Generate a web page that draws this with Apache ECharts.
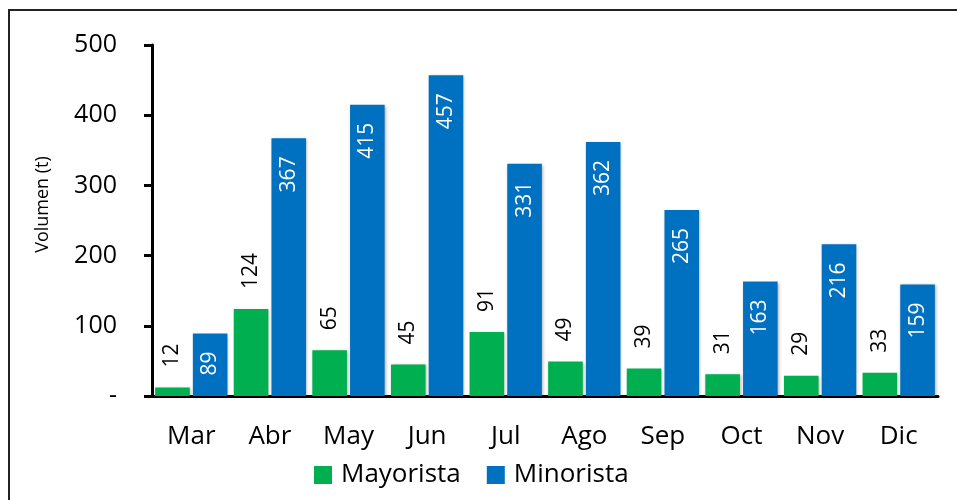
<!DOCTYPE html>
<html>
<head>
<meta charset="utf-8">
<script src="https://cdn.jsdelivr.net/npm/echarts@6/dist/echarts.min.js"></script>
<style>
  html, body { margin: 0; padding: 0; background: #fff; }
  #chart { width: 957px; height: 500px; }
</style>
</head>
<body>
<div id="chart"></div>
<script>
// datos
var meses = ["Mar", "Abr", "May", "Jun", "Jul", "Ago", "Sep", "Oct", "Nov", "Dic"];
var mayorista = [12, 124, 65, 45, 91, 49, 39, 31, 29, 33];
var minorista = [89, 367, 415, 457, 331, 362, 265, 163, 216, 159];

var fuente = "Open Sans";
var myChart = echarts.init(document.getElementById("chart"));

var option = {
  animation: false,
  textStyle: { fontFamily: fuente },
  graphic: [
    {
      type: "rect",
      shape: { x: 9, y: 10, width: 1000, height: 600 },
      style: { fill: "none", stroke: "#222", lineWidth: 2 },
      silent: true,
    },
  ],
  legend: {
    left: 309,
    top: 457,
    itemWidth: 18,
    itemHeight: 18,
    itemGap: 26,
    icon: "rect",
    textStyle: { fontSize: 26, color: "#000", padding: [0, 0, 0, 4] },
    data: ["Mayorista", "Minorista"],
  },
  grid: {
    left: 152,
    right: 19,
    top: 45,
    bottom: 104,
  },
  xAxis: {
    type: "category",
    data: meses,
    axisLine: { lineStyle: { color: "#000", width: 3 } },
    axisTick: { length: 10, lineStyle: { color: "#000", width: 3 } },
    axisLabel: { fontSize: 26, color: "#000", margin: 28 },
  },
  yAxis: {
    type: "value",
    min: 0,
    max: 500,
    interval: 100,
    name: "Volumen (t)",
    nameLocation: "middle",
    nameGap: 100,
    nameTextStyle: {
      fontSize: 18,
      fontFamily: fuente,
      color: "#000",
      padding: [0, 0, 0, 32],
    },
    axisLine: { show: true, lineStyle: { color: "#000", width: 3 } },
    axisTick: { show: true, length: 8, lineStyle: { color: "#000", width: 3 } },
    splitLine: { show: false },
    axisLabel: {
      fontSize: 25,
      color: "#000",
      margin: 35,
      formatter: function (v) {
        return v === 0 ? "-" : v;
      },
    },
  },
  series: [
    {
      name: "Mayorista",
      type: "bar",
      data: mayorista,
      barCategoryGap: "8%",
      barGap: "9%",
      itemStyle: {
        color: "#00B050",
        shadowColor: "rgba(0,0,0,0.3)",
        shadowBlur: 3,
        shadowOffsetX: 1,
        shadowOffsetY: 1,
      },
      label: {
        show: true,
        position: "top",
        rotate: 90,
        align: "left",
        verticalAlign: "middle",
        distance: 20,
        fontSize: 21,
        color: "#000",
      },
    },
    {
      name: "Minorista",
      type: "bar",
      data: minorista,
      barCategoryGap: "8%",
      barGap: "9%",
      itemStyle: {
        color: "#0070C0",
        shadowColor: "rgba(0,0,0,0.3)",
        shadowBlur: 3,
        shadowOffsetX: 1,
        shadowOffsetY: 1,
      },
      label: {
        show: true,
        position: "insideTop",
        rotate: 90,
        align: "right",
        verticalAlign: "middle",
        distance: 18,
        fontSize: 21,
        color: "#fff",
      },
    },
  ],
};

myChart.setOption(option);
</script>
</body>
</html>
